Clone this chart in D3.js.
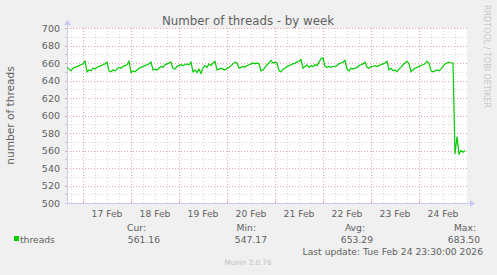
<!DOCTYPE html>
<head>
  <meta charset="utf-8">
  <title>Number of threads - by week</title>
  <script src="https://cdn.jsdelivr.net/npm/d3@7"></script>
  <style>
    body { margin: 0; background: #f0f0f0; }
    text { font-family: "DejaVu Sans", sans-serif; }
  </style>
</head>
<body>
<div id="container"></div>
<script>
  // hourly samples (threads)
  const startTime = Date.UTC(2026, 1, 16, 16, 0);
  const endTime = Date.UTC(2026, 1, 25, 0, 0);
  const stepMs = 3600 * 1000;
  const threads = [
    655, 653, 651, 654, 655, 656, 657, 658, 659, 662, 650, 652,
    651, 654, 653, 655, 656, 657, 658, 659, 661, 651, 650, 652,
    651, 653, 655, 654, 656, 657, 658, 662, 649, 651, 650, 652,
    654, 655, 656, 657, 658, 659, 661, 652, 653, 652, 654, 656,
    655, 658, 659, 660, 661, 654, 653, 656, 657, 658, 657, 658,
    659, 658, 661, 650, 652, 649, 653, 648, 654, 657, 655, 659,
    657, 660, 662, 652, 653, 654, 653, 652, 654, 655, 657, 659,
    661, 660, 654, 655, 656, 655, 657, 658, 659, 660, 659, 660,
    659, 651, 652, 655, 658, 660, 663, 660, 661, 660, 651, 650,
    653, 654, 656, 657, 658, 659, 660, 661, 662, 664, 654, 656,
    658, 655, 657, 656, 658, 657, 661, 665, 666, 656, 655, 656,
    655, 656, 656, 657, 659, 660, 661, 663, 653, 651, 654, 653,
    654, 655, 657, 658, 659, 661, 655, 654, 656, 656, 657, 656,
    657, 658, 659, 660, 662, 652, 654, 651, 652, 650, 653, 655,
    658, 660, 662, 659, 650, 652, 654, 655, 656, 657, 658, 659,
    662, 660, 651, 650, 651, 652, 651, 653, 656, 659, 660, 661,
    660, 660, 556, 576, 556, 560, 558, 560
  ];
  const dayLabels = ["17 Feb", "18 Feb", "19 Feb", "20 Feb", "21 Feb", "22 Feb", "23 Feb", "24 Feb"];
  const labelNoons = dayLabels.map((d, i) => Date.UTC(2026, 1, 17 + i, 12));
  const yTicks = [500, 520, 540, 560, 580, 600, 620, 640, 660, 680, 700];
  const legendHeads = ["Cur:", "Min:", "Avg:", "Max:"];
  const legendValues = ["561.16", "547.17", "653.29", "683.50"];

  const W = 497, H = 275;
  const plot = {left: 67, right: 467, top: 28, bottom: 203};
  const green = "#00cc00";
  const textColor = "#606060";

  const svg = d3.select("#container").append("svg")
    .attr("width", W).attr("height", H);

  svg.append("rect").attr("width", W).attr("height", H).attr("fill", "#f0f0f0");

  const x = d3.scaleUtc().domain([startTime, endTime]).range([plot.left, plot.right]);
  const y = d3.scaleLinear().domain([500, 700]).range([plot.bottom, plot.top]);

  svg.append("rect")
    .attr("x", plot.left).attr("y", plot.top)
    .attr("width", plot.right - plot.left).attr("height", plot.bottom - plot.top)
    .attr("fill", "#fff");

  const grid = svg.append("g").attr("fill", "none").attr("stroke-width", 1);

  // minor grid: every 10 threads, every 6 hours
  grid.selectAll(".hmin").data(d3.range(510, 700, 20)).enter().append("line")
    .attr("x1", plot.left).attr("x2", plot.right)
    .attr("y1", d => Math.round(y(d)) + 0.5).attr("y2", d => Math.round(y(d)) + 0.5)
    .attr("stroke", "#d8d8d8").attr("stroke-dasharray", "1,2");
  const sixHours = d3.utcHour.every(6).range(new Date(startTime), new Date(endTime))
    .filter(d => d.getUTCHours() !== 0);
  grid.selectAll(".vmin").data(sixHours).enter().append("line")
    .attr("y1", plot.top).attr("y2", plot.bottom)
    .attr("x1", d => Math.round(x(d)) + 0.5).attr("x2", d => Math.round(x(d)) + 0.5)
    .attr("stroke", "#d8d8d8").attr("stroke-dasharray", "1,2");

  // major grid: every 20 threads, midnight
  grid.selectAll(".hmaj").data(yTicks.slice(1)).enter().append("line")
    .attr("x1", plot.left).attr("x2", plot.right)
    .attr("y1", d => Math.round(y(d)) + 0.5).attr("y2", d => Math.round(y(d)) + 0.5)
    .attr("stroke", "#eba3a3").attr("stroke-dasharray", "1,2");
  const days = d3.utcDay.range(new Date(startTime), new Date(endTime));
  grid.selectAll(".vmaj").data(days).enter().append("line")
    .attr("y1", plot.top).attr("y2", plot.bottom)
    .attr("x1", d => Math.round(x(d)) + 0.5).attr("x2", d => Math.round(x(d)) + 0.5)
    .attr("stroke", "#eba3a3").attr("stroke-dasharray", "1,2");

  // tick marks on axes
  grid.selectAll(".ytk").data(d3.range(500, 701, 10)).enter().append("line")
    .attr("x1", plot.left - 2).attr("x2", plot.left)
    .attr("y1", d => Math.round(y(d)) + 0.5).attr("y2", d => Math.round(y(d)) + 0.5)
    .attr("stroke", d => d % 20 === 0 ? "#eba3a3" : "#c8c8c8");
  grid.selectAll(".xtk").data(days).enter().append("line")
    .attr("y1", plot.bottom - 2).attr("y2", plot.bottom + 1)
    .attr("x1", d => Math.round(x(d)) + 0.5).attr("x2", d => Math.round(x(d)) + 0.5)
    .attr("stroke", "#e88");

  // axes with arrows
  const axisColor = "#c8c8f4";
  svg.append("line").attr("x1", plot.left + 0.5).attr("x2", plot.left + 0.5)
    .attr("y1", plot.bottom + 2).attr("y2", plot.top - 5).attr("stroke", axisColor);
  svg.append("line").attr("x1", plot.left - 2).attr("x2", plot.right + 5)
    .attr("y1", plot.bottom + 0.5).attr("y2", plot.bottom + 0.5).attr("stroke", axisColor);
  svg.append("path")
    .attr("d", `M${plot.left - 3},${plot.top - 3}L${plot.left + 0.5},${plot.top - 8}L${plot.left + 4},${plot.top - 3}Z`)
    .attr("fill", axisColor);
  svg.append("path")
    .attr("d", `M${plot.right + 3},${plot.bottom - 3}L${plot.right + 8},${plot.bottom + 0.5}L${plot.right + 3},${plot.bottom + 4}Z`)
    .attr("fill", axisColor);

  // the data line
  const line = d3.line()
    .x((d, i) => x(startTime + i * stepMs))
    .y(d => y(d));
  svg.append("path").datum(threads)
    .attr("d", line)
    .attr("fill", "none")
    .attr("stroke", green)
    .attr("stroke-width", 1.2);

  // tick labels
  svg.append("g").selectAll("text").data(yTicks).enter().append("text")
    .attr("x", plot.left - 7).attr("y", d => y(d) + 3.5)
    .attr("text-anchor", "end").attr("font-size", 9.5).attr("fill", textColor)
    .text(d => d);
  svg.append("g").selectAll("text").data(dayLabels).enter().append("text")
    .attr("x", (d, i) => x(labelNoons[i])).attr("y", 217)
    .attr("text-anchor", "middle").attr("font-size", 9.2).attr("fill", textColor)
    .text(d => d);

  // titles
  svg.append("text").attr("x", 248).attr("y", 25)
    .attr("text-anchor", "middle").attr("font-size", 11.8).attr("fill", textColor)
    .text("Number of threads - by week");
  svg.append("text")
    .attr("transform", `translate(14,${(plot.top + plot.bottom) / 2}) rotate(-90)`)
    .attr("text-anchor", "middle").attr("font-size", 10.6).attr("fill", textColor)
    .text("number of threads");
  svg.append("text")
    .attr("transform", "translate(484,5) rotate(90)")
    .attr("font-size", 8).attr("fill", "#c8c8c8")
    .text("RRDTOOL / TOBI OETIKER");

  // legend
  svg.append("rect").attr("x", 14).attr("y", 236).attr("width", 5).attr("height", 5).attr("fill", green);
  svg.append("text").attr("x", 20).attr("y", 242.5)
    .attr("font-size", 9.2).attr("fill", textColor).text("threads");
  const colRight = [146, 256, 365, 476];
  const valRight = [160, 267, 373, 480];
  svg.append("g").selectAll("text").data(legendHeads).enter().append("text")
    .attr("x", (d, i) => colRight[i]).attr("y", 230.5)
    .attr("text-anchor", "end").attr("font-size", 9.2).attr("fill", textColor)
    .text(d => d);
  svg.append("g").selectAll("text").data(legendValues).enter().append("text")
    .attr("x", (d, i) => valRight[i]).attr("y", 242.5)
    .attr("text-anchor", "end").attr("font-size", 9.2).attr("fill", textColor)
    .text(d => d);
  svg.append("text").attr("x", 483).attr("y", 254.5)
    .attr("text-anchor", "end").attr("font-size", 9.2).attr("fill", textColor)
    .text("Last update: Tue Feb 24 23:30:00 2026");
  svg.append("text").attr("x", 248).attr("y", 265)
    .attr("text-anchor", "middle").attr("font-size", 7.2).attr("fill", "#c0c0c0")
    .text("Munin 2.0.76");
</script>
</body>
